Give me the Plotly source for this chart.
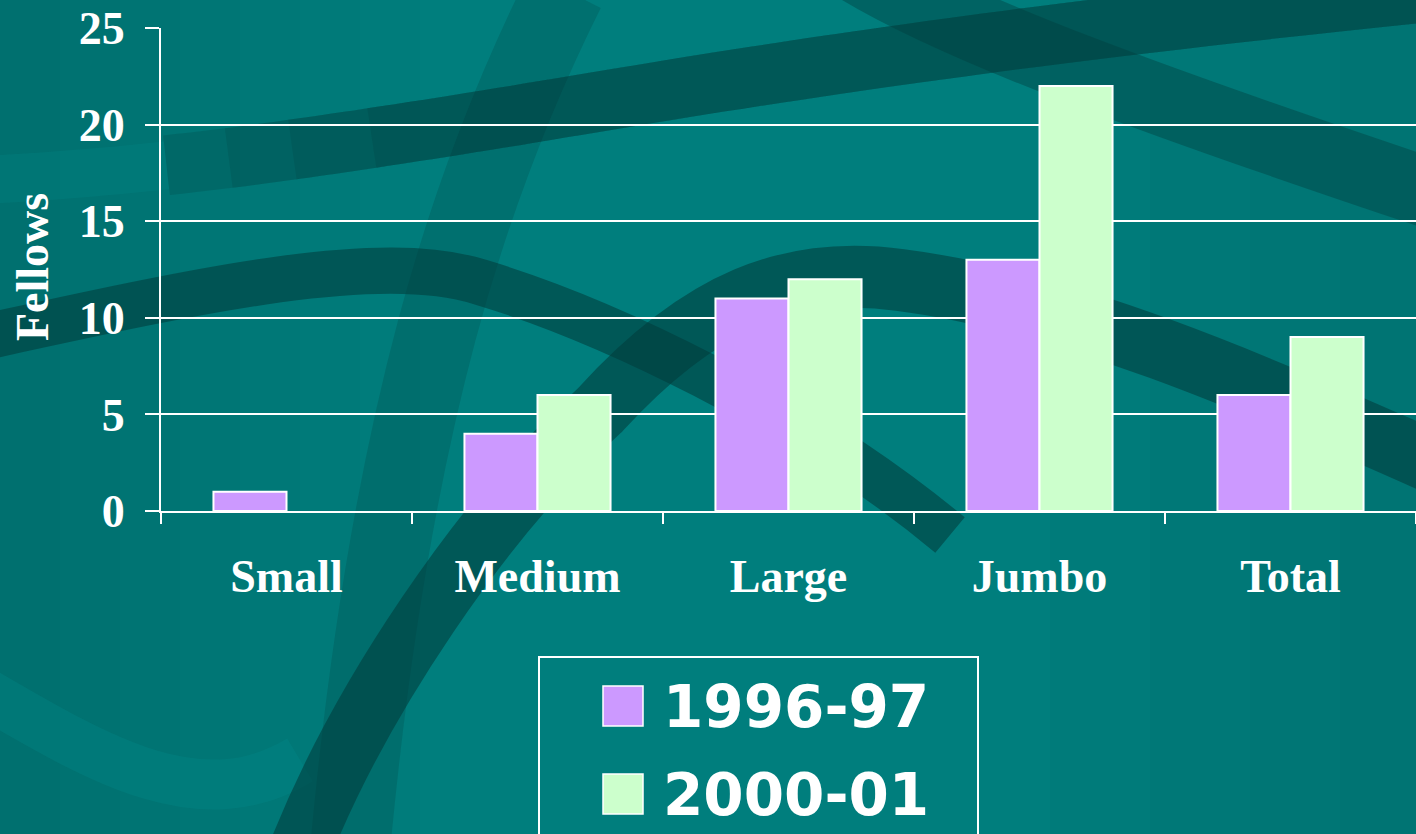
import plotly.graph_objects as go

# ---- data ----
categories = ["Small", "Medium", "Large", "Jumbo", "Total"]
series_names = ["1996-97", "2000-01"]
values_1996 = [1, 4, 11, 13, 6]
values_2000 = [None, 6, 12, 22, 9]
y_ticks = [0, 5, 10, 15, 20, 25]
y_title = "Fellows"

W, H = 1416, 834
L, R, T, B = 161, 0, 28, 323
PW, PH = W - L - R, H - T - B

def px(x):
    return (x - L) / PW

def py(y):
    return (H - B - y) / PH

def P(x, y):
    return f"{px(x):.4f},{py(y):.4f}"

BASE = "#007E7D"
PURPLE = "#CC99FF"
GREEN = "#CCFFCC"

fig = go.Figure()
fig.add_trace(go.Bar(x=categories, y=values_1996, name=series_names[0],
                     marker=dict(color=PURPLE, line=dict(color="white", width=2))))
fig.add_trace(go.Bar(x=categories, y=values_2000, name=series_names[1],
                     marker=dict(color=GREEN, line=dict(color="white", width=2))))

shapes = []
# soft gradient strips for the decorative background
left_strips = [(0, 60, 0.14), (60, 120, 0.12), (120, 180, 0.10), (180, 240, 0.08),
               (240, 300, 0.06), (300, 360, 0.04), (360, 420, 0.02)]
for x0, x1, a in left_strips:
    shapes.append(dict(type="rect", xref="paper", yref="paper", layer="below",
                       x0=px(x0), x1=px(x1), y0=py(H + 5), y1=py(-5),
                       fillcolor=f"rgba(0,30,30,{a})", line=dict(width=0)))
right_strips = [(1050, 1150, 0.03), (1150, 1250, 0.06), (1250, 1340, 0.08), (1340, 1420, 0.10)]
for x0, x1, a in right_strips:
    shapes.append(dict(type="rect", xref="paper", yref="paper", layer="below",
                       x0=px(x0), x1=px(x1), y0=py(H + 5), y1=py(-5),
                       fillcolor=f"rgba(0,30,30,{a})", line=dict(width=0)))


def cubic_points(segs, n=30):
    """segs: list of (p0, c1, c2, p3) pixel tuples -> sampled pixel points."""
    pts = []
    for (p0, c1, c2, p3) in segs:
        for i in range(n + 1):
            if pts and i == 0:
                continue
            t = i / n
            a = (1 - t) ** 3; b = 3 * (1 - t) ** 2 * t; c = 3 * (1 - t) * t ** 2; d = t ** 3
            pts.append((a * p0[0] + b * c1[0] + c * c2[0] + d * p3[0],
                        a * p0[1] + b * c1[1] + c * c2[1] + d * p3[1]))
    return pts


def poly(pts):
    return "M " + " L ".join(P(x, y) for x, y in pts)


def band(d, color, width):
    shapes.append(dict(type="path", xref="paper", yref="paper", layer="below",
                       path=d, line=dict(color=color, width=width),
                       fillcolor="rgba(0,0,0,0)"))

DARK = "rgba(0,60,60,0.58)"
# lighter U curve bottom-left
band(f"M {P(-20,690)} C {P(100,760)} {P(200,820)} {P(300,760)}", "rgba(0,140,140,0.30)", 50)
# vertical sweeping band
band(f"M {P(565,-10)} C {P(470,180)} {P(390,420)} {P(350,850)}", "rgba(0,50,50,0.18)", 80)

# upper diagonal band: light on the far left, gradually darker to the right
up = cubic_points([((-20, 180), (150, 172), (300, 150), (500, 118)),
                   ((500, 118), (700, 85), (950, 40), (1450, -10))], n=40)
band(poly([p for p in up if p[0] <= 175]), "rgba(0,140,140,0.22)", 48)
for x_start, alpha in [(160, 0.18), (220, 0.14), (290, 0.14), (370, 0.14)]:
    band(poly([p for p in up if p[0] >= x_start]), f"rgba(0,50,50,{alpha})", 60)

# top right band
band(f"M {P(860,-30)} C {P(960,30)} {P(1150,100)} {P(1450,200)}", "rgba(0,60,60,0.40)", 70)
# wave band (left, bending down, ending near the axis)
band(f"M {P(-20,338)} C {P(200,290)} {P(380,250)} {P(480,282)} C {P(600,318)} {P(800,410)} {P(950,535)}",
     DARK, 46)
# rising wave band
band(f"M {P(300,850)} C {P(360,700)} {P(480,520)} {P(600,410)} C {P(700,300)} {P(790,265)} {P(900,280)} "
     f"C {P(1060,300)} {P(1250,380)} {P(1450,470)}",
     DARK, 62)

# custom legend
lx0, lx1, ly0 = 539, 978, 657
shapes.append(dict(type="rect", xref="paper", yref="paper", layer="above",
                   x0=px(lx0), x1=px(lx1), y0=py(ly0), y1=py(H + 10),
                   line=dict(color="white", width=2), fillcolor="rgba(0,0,0,0)"))
annotations = []
rows = [(series_names[0], PURPLE, 706), (series_names[1], GREEN, 794)]
for name, col, cy in rows:
    shapes.append(dict(type="rect", xref="paper", yref="paper", layer="above",
                       x0=px(603), x1=px(643), y0=py(cy - 20), y1=py(cy + 20),
                       line=dict(color="white", width=1.5), fillcolor=col))
    annotations.append(dict(xref="paper", yref="paper", x=px(661), y=py(cy + 1),
                            xanchor="left", yanchor="middle", showarrow=False,
                            text=f"<b>{name}</b>",
                            font=dict(family="DejaVu Sans", size=58, color="white")))

annotations.append(dict(xref="paper", yref="paper", x=px(32), y=py(267),
                        xanchor="center", yanchor="middle", showarrow=False,
                        textangle=-90, text=f"<b>{y_title}</b>",
                        font=dict(family="Liberation Serif", size=46, color="white")))

fig.update_layout(
    width=W, height=H,
    margin=dict(l=L, r=R, t=T, b=B, pad=0),
    paper_bgcolor=BASE, plot_bgcolor="rgba(0,0,0,0)",
    barmode="group", bargap=0.418, bargroupgap=0,
    showlegend=False,
    shapes=shapes, annotations=annotations,
    font=dict(family="Liberation Serif", color="white"),
)
fig.update_xaxes(
    showline=True, linecolor="white", linewidth=2,
    ticks="outside", tickson="boundaries", ticklen=11, tickwidth=2, tickcolor="white",
    tickfont=dict(family="Liberation Serif", size=46, color="white", weight="bold"),
    ticklabelstandoff=24, showgrid=False, zeroline=False,
)
fig.update_yaxes(
    range=[0, 25], tickvals=y_ticks, ticktext=[str(v) for v in y_ticks],
    showline=True, linecolor="white", linewidth=2,
    ticks="outside", ticklen=14, tickwidth=2, tickcolor="white",
    showgrid=True, gridcolor="white", gridwidth=1.5, zeroline=False,
    tickfont=dict(family="Liberation Serif", size=46, color="white", weight="bold"),
    ticklabelstandoff=11,
)

fig.write_html("out.html", config={"displayModeBar": False},
               post_script="document.body.style.margin='0';document.body.style.overflow='hidden';")
